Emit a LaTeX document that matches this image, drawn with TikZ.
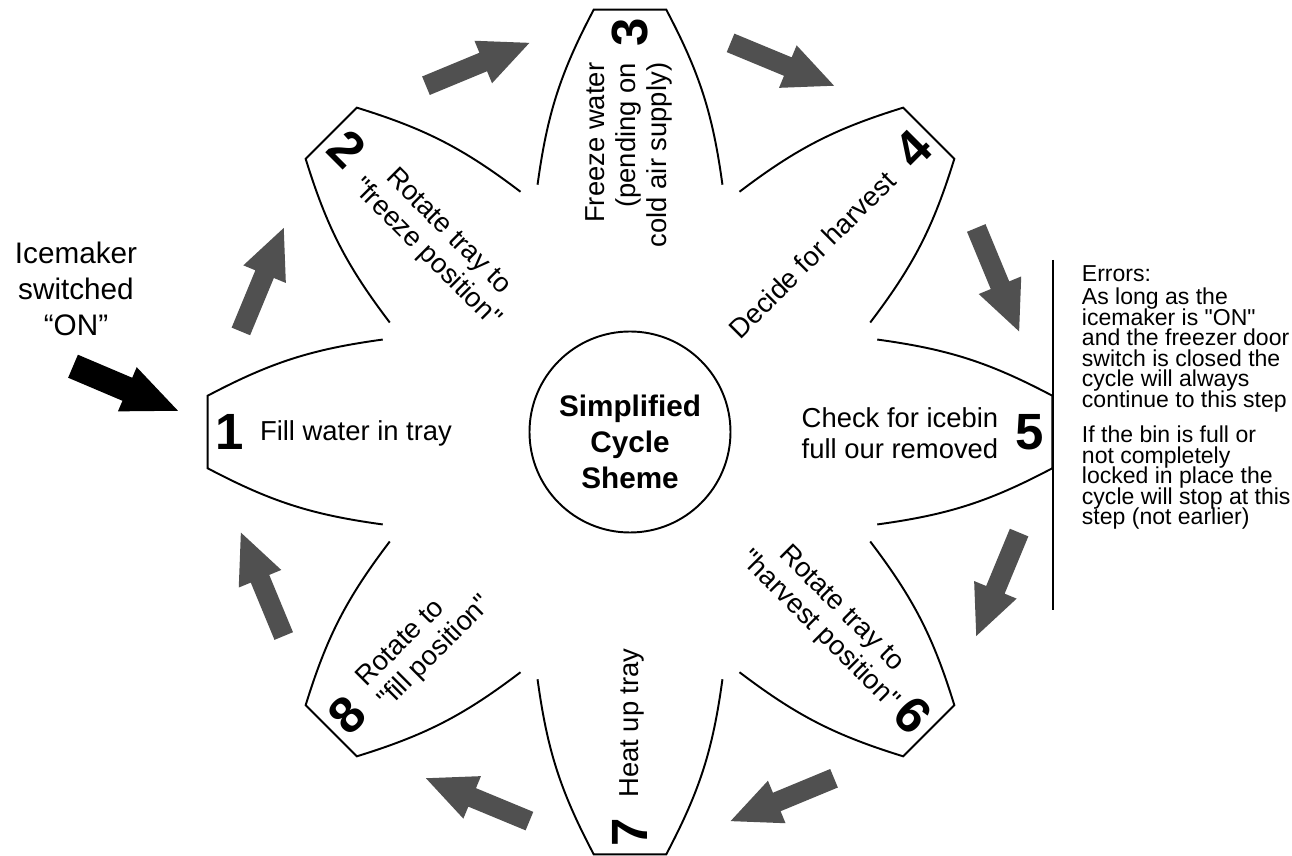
\documentclass[tikz,border=0pt]{standalone}
\usepackage{fontspec}
\setmainfont{Liberation Sans}[Ligatures=TeXOff]
\usepackage{xcolor}
\definecolor{arrowgray}{RGB}{80,80,80}
\newcommand\errorfont{\fontsize{13.1}{11.7}\selectfont\lineskiplimit=-50pt\relax}

\begin{document}
\begin{tikzpicture}[x=0.2mm,y=0.2mm,line width=1.1pt,
	every node/.style={inner sep=0pt},
	steptext/.style={font=\fontsize{15.6}{17.5}\selectfont},
	stepnum/.style={font=\fontsize{29}{29}\selectfont\bfseries},
	cyclearrow/.pic={\fill (-56,-10) -- (6,-10) -- (6,-23) -- (56,0) -- (6,23) -- (6,10) -- (-56,10) -- cycle;},
	switcharrow/.pic={\fill (-57,-12.5) -- (2,-12.5) -- (2,-24) -- (57,0) -- (2,24) -- (2,12.5) -- (-57,12.5) -- cycle;}]
			\useasboundingbox (-630,-424) rectangle (662,432);
			% petals
			\draw (159.5:264) to[bend right=10] (175.1:424) -- (184.9:424) to[bend right=10] (200.5:264);
			\draw (114.5:264) to[bend right=10] (130.1:424) -- (139.9:424) to[bend right=10] (155.5:264);
			\draw (69.5:264) to[bend right=10] (85.1:424) -- (94.9:424) to[bend right=10] (110.5:264);
			\draw (24.5:264) to[bend right=10] (40.1:424) -- (49.9:424) to[bend right=10] (65.5:264);
			\draw (-20.5:264) to[bend right=10] (-4.9:424) -- (4.9:424) to[bend right=10] (20.5:264);
			\draw (-65.5:264) to[bend right=10] (-49.9:424) -- (-40.1:424) to[bend right=10] (-24.5:264);
			\draw (-110.5:264) to[bend right=10] (-94.9:424) -- (-85.1:424) to[bend right=10] (-69.5:264);
			\draw (-155.5:264) to[bend right=10] (-139.9:424) -- (-130.1:424) to[bend right=10] (-114.5:264);
			% hub
			\node[draw,circle,minimum size=40.2mm] (hub)at(0.0,0.0) {};
			\node[align=center,font=\fontsize{16.9}{20.5}\selectfont\bfseries] (hubtext)at(0.0,-10.0) {Simplified\\Cycle\\Sheme};
			% step numbers
			\node[stepnum] (n1)at(180:400) {1};
			\node[stepnum,rotate=-45] (n2)at(135:400) {2};
			\node[stepnum,rotate=90] (n3)at(90:400) {3};
			\node[stepnum,rotate=45] (n4)at(45:400) {4};
			\node[stepnum] (n5)at(0:400) {5};
			\node[stepnum,rotate=-45] (n6)at(-45:400) {6};
			\node[stepnum,rotate=90] (n7)at(-90:400) {7};
			\node[stepnum,rotate=45] (n8)at(-135:400) {8};
			% step texts
			\node[steptext] (t1)at(-274.0,-1.0) {Fill water in tray};
			\node[steptext,align=center,rotate=-45] (t2)at(-193.0,189.0) {Rotate tray to\\"freeze position"};
			\node[steptext,align=right,rotate=90] (t3)at(-1.0,277.0) {Freeze water\\(pending on\\cold air supply)};
			\node[steptext,rotate=45] (t4)at(182.0,177.0) {Decide for harvest};
			\node[steptext,align=left] (t5)at(270.0,-1.0) {Check for icebin\\full our removed};
			\node[steptext,align=center,rotate=-45] (t6)at(200.0,-188.0) {Rotate tray to\\"harvest position"};
			\node[steptext,rotate=90] (t7)at(2.0,-291.0) {Heat up tray};
			\node[steptext,align=left,rotate=45] (t8)at(-205.0,-210.0) {Rotate to\\"fill position"};
			% cycle arrows
			\pic[rotate=67.5,color=arrowgray] at (157.5:398) {cyclearrow};
			\pic[rotate=22.5,color=arrowgray] at (112.5:398) {cyclearrow};
			\pic[rotate=-22.5,color=arrowgray] at (67.5:398) {cyclearrow};
			\pic[rotate=-67.5,color=arrowgray] at (22.5:398) {cyclearrow};
			\pic[rotate=-112.5,color=arrowgray] at (-22.5:398) {cyclearrow};
			\pic[rotate=-157.5,color=arrowgray] at (-67.5:398) {cyclearrow};
			\pic[rotate=157.5,color=arrowgray] at (-112.5:398) {cyclearrow};
			\pic[rotate=112.5,color=arrowgray] at (-157.5:398) {cyclearrow};
			% switch on
			\node[align=center,font=\fontsize{16.9}{20.5}\selectfont] (switch)at(-554.0,143.0) {Icemaker\\switched\\“ON”};
			\pic[rotate=-23,color=black] at (-504.5,43.5) {switcharrow};
			% errors
			\draw (423.0,172.0) -- (423.0,-178.0);
			\node[anchor=north west,align=left,font=\errorfont] (errors)at(451.0,167.0) {Errors:\\[1.3pt]
				As long as the\\
				icemaker is "ON"\\
				and the freezer door\\
				switch is closed the\\
				cycle will always\\
				continue to this step\\[8.3pt]
				If the bin is full or\\
				not completely\\
				locked in place the\\
				cycle will stop at this\\
				step (not earlier)};
\end{tikzpicture}
\end{document}
